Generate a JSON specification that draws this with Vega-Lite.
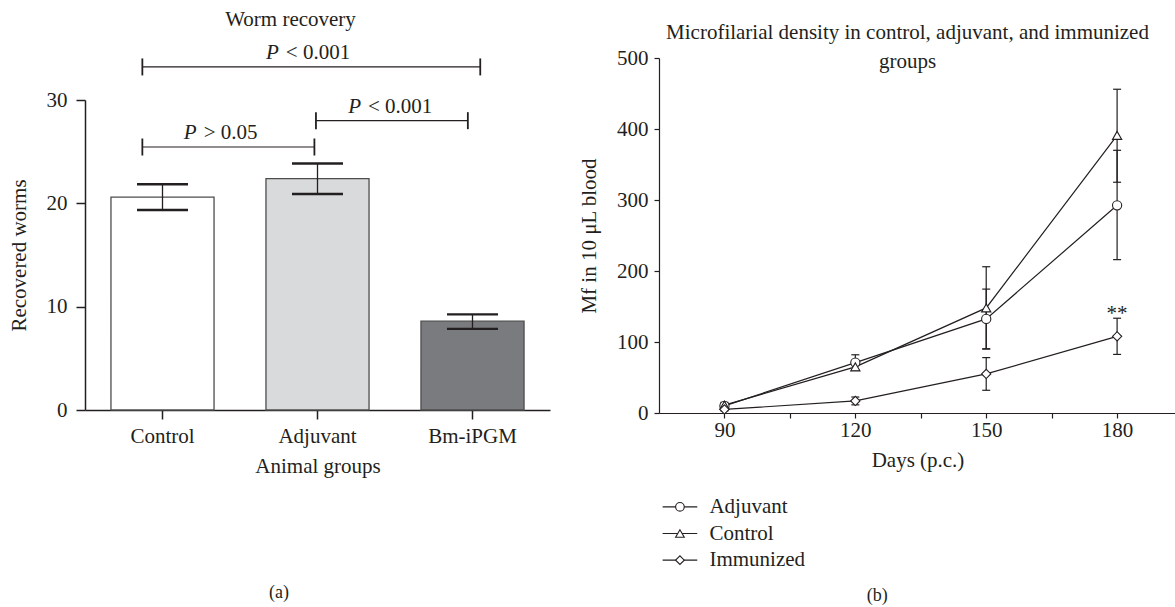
{
  "$schema": "https://vega.github.io/schema/vega-lite/v6.json",
  "padding": {"left": 8, "top": 7, "right": 0, "bottom": 0},
  "background": "white",
  "config": {
    "view": {"stroke": null},
    "font": "Liberation Serif",
    "title": {"font": "Liberation Serif", "fontSize": 21, "fontWeight": "normal", "color": "#231f20"},
    "axis": {"labelFont": "Liberation Serif", "titleFont": "Liberation Serif", "labelFontSize": 21, "titleFontSize": 21, "titleFontWeight": "normal", "labelColor": "#231f20", "titleColor": "#231f20", "domainColor": "#231f20", "tickColor": "#231f20", "grid": false, "labelOverlap": false}
  },
  "datasets": {
    "bars": [
      {"group": "Control", "mean": 20.6, "lo": 19.35, "hi": 21.85},
      {"group": "Adjuvant", "mean": 22.4, "lo": 20.9, "hi": 23.85},
      {"group": "Bm-iPGM", "mean": 8.6, "lo": 7.85, "hi": 9.25}
    ],
    "brackets": [
      {"u1": 0.37, "u2": 2.55, "y": 33.2, "split": 1.27, "rest": "< 0.001"},
      {"u1": 0.37, "u2": 1.48, "y": 25.45, "split": 0.74, "rest": "> 0.05"},
      {"u1": 1.49, "u2": 2.47, "y": 28.0, "split": 1.8, "rest": "< 0.001"}
    ],
    "mf": [
      {"group": "Adjuvant", "day": 90, "mean": 10, "lo": 7, "hi": 13},
      {"group": "Adjuvant", "day": 120, "mean": 71, "lo": 60, "hi": 82},
      {"group": "Adjuvant", "day": 150, "mean": 132.5, "lo": 90.5, "hi": 174.5},
      {"group": "Adjuvant", "day": 180, "mean": 292.5, "lo": 216, "hi": 370},
      {"group": "Control", "day": 90, "mean": 11, "lo": 7, "hi": 15},
      {"group": "Control", "day": 120, "mean": 65, "lo": 61, "hi": 70},
      {"group": "Control", "day": 150, "mean": 148, "lo": 90, "hi": 206},
      {"group": "Control", "day": 180, "mean": 391, "lo": 325, "hi": 456},
      {"group": "Immunized", "day": 90, "mean": 5, "lo": 3, "hi": 7},
      {"group": "Immunized", "day": 120, "mean": 17, "lo": 11.5, "hi": 22.5},
      {"group": "Immunized", "day": 150, "mean": 55, "lo": 32, "hi": 78},
      {"group": "Immunized", "day": 180, "mean": 108, "lo": 82.5, "hi": 133.5}
    ],
    "stars": [
      {"day": 180, "y": 133.5, "label": "**"}
    ],
    "legendrows": [
      {"group": "Adjuvant"},
      {"group": "Control"},
      {"group": "Immunized"}
    ]
  },
  "spacing": 28,
  "resolve": {"scale": {"shape": "independent", "fill": "independent"}, "legend": {"shape": "independent", "fill": "independent"}},
  "hconcat": [
    {
      "title": {"text": "(a)", "orient": "bottom", "anchor": "middle", "fontSize": 18, "offset": 107},
      "bounds": "flush",
      "spacing": 0,
      "vconcat": [
        {
          "width": 465,
          "height": 42,
          "data": {"values": []},
          "mark": {"type": "point", "opacity": 0}
        },
        {
          "width": 465,
          "height": 310,
          "title": {"text": "Worm recovery", "frame": "group", "anchor": "middle", "dx": -27, "offset": 11.5},
          "resolve": {"scale": {"x": "independent"}, "axis": {"x": "independent"}},
          "layer": [
            {
              "data": {"name": "bars"},
              "layer": [
                {
                  "mark": {"type": "bar", "stroke": "#4d4d4d", "strokeWidth": 1.3},
                  "encoding": {
                    "x": {"field": "group", "type": "nominal", "sort": ["Control", "Adjuvant", "Bm-iPGM"],
                      "scale": {"paddingInner": 0.335, "paddingOuter": 0.1675},
                      "axis": {"title": "Animal groups", "labelAngle": 0, "tickSize": 9, "labelPadding": 6.5, "titlePadding": 9, "domainWidth": 1.5, "tickWidth": 1.5}},
                    "y": {"field": "mean", "type": "quantitative", "scale": {"domain": [0, 30], "nice": false},
                      "axis": {"title": "Recovered worms", "values": [0, 10, 20, 30], "tickSize": 9, "labelPadding": 9, "titlePadding": 17, "domainWidth": 1.5, "tickWidth": 1.5}},
                    "fill": {"field": "group", "type": "nominal", "scale": {"domain": ["Control", "Adjuvant", "Bm-iPGM"], "range": ["#ffffff", "#d9dadc", "#7a7b7e"]}, "legend": null}
                  }
                },
                {
                  "mark": {"type": "rule", "color": "#231f20", "strokeWidth": 1.3},
                  "encoding": {
                    "x": {"field": "group", "type": "nominal", "sort": ["Control", "Adjuvant", "Bm-iPGM"]},
                    "y": {"field": "lo", "type": "quantitative"},
                    "y2": {"field": "hi"}
                  }
                },
                {
                  "mark": {"type": "tick", "orient": "horizontal", "size": 51, "thickness": 2.4, "color": "#231f20", "opacity": 1},
                  "encoding": {
                    "x": {"field": "group", "type": "nominal", "sort": ["Control", "Adjuvant", "Bm-iPGM"]},
                    "y": {"field": "lo", "type": "quantitative"}
                  }
                },
                {
                  "mark": {"type": "tick", "orient": "horizontal", "size": 51, "thickness": 2.4, "color": "#231f20", "opacity": 1},
                  "encoding": {
                    "x": {"field": "group", "type": "nominal", "sort": ["Control", "Adjuvant", "Bm-iPGM"]},
                    "y": {"field": "hi", "type": "quantitative"}
                  }
                }
              ]
            },
            {
              "data": {"name": "brackets"},
              "layer": [
                {
                  "mark": {"type": "rule", "color": "#231f20", "strokeWidth": 1.2},
                  "encoding": {
                    "x": {"field": "u1", "type": "quantitative", "scale": {"domain": [0, 3], "nice": false, "zero": false}, "axis": null},
                    "x2": {"field": "u2"},
                    "y": {"field": "y", "type": "quantitative", "scale": {"domain": [0, 30], "nice": false}}
                  }
                },
                {
                  "mark": {"type": "tick", "orient": "vertical", "size": 17, "thickness": 1.8, "color": "#231f20", "opacity": 1},
                  "encoding": {
                    "x": {"field": "u1", "type": "quantitative"},
                    "y": {"field": "y", "type": "quantitative"}
                  }
                },
                {
                  "mark": {"type": "tick", "orient": "vertical", "size": 17, "thickness": 1.8, "color": "#231f20", "opacity": 1},
                  "encoding": {
                    "x": {"field": "u2", "type": "quantitative"},
                    "y": {"field": "y", "type": "quantitative"}
                  }
                },
                {
                  "mark": {"type": "text", "font": "Liberation Serif", "fontSize": 21, "fontStyle": "italic", "color": "#231f20", "align": "right", "baseline": "alphabetic", "dy": -8, "dx": -3},
                  "encoding": {
                    "x": {"field": "split", "type": "quantitative"},
                    "y": {"field": "y", "type": "quantitative"},
                    "text": {"value": "P"}
                  }
                },
                {
                  "mark": {"type": "text", "font": "Liberation Serif", "fontSize": 21, "color": "#231f20", "align": "left", "baseline": "alphabetic", "dy": -8, "dx": 4},
                  "encoding": {
                    "x": {"field": "split", "type": "quantitative"},
                    "y": {"field": "y", "type": "quantitative"},
                    "text": {"field": "rest"}
                  }
                }
              ]
            }
          ]
        }
      ]
    },
    {
      "title": {"text": "(b)", "orient": "bottom", "anchor": "middle", "fontSize": 18, "offset": 13},
      "spacing": 23.5,
      "resolve": {"scale": {"shape": "independent"}, "legend": {"shape": "independent"}},
      "vconcat": [
        {
          "width": 517,
          "height": 355,
          "title": {"text": " ", "fontSize": 2, "subtitle": ["Microfilarial density in control, adjuvant, and immunized", "groups"], "subtitleFont": "Liberation Serif", "subtitleFontSize": 21, "subtitleColor": "#231f20", "subtitleLineHeight": 29, "subtitlePadding": 13, "frame": "group", "anchor": "middle", "dx": -10, "offset": -25},
          "layer": [
            {
              "data": {"name": "mf"},
              "mark": {"type": "line", "color": "#231f20", "strokeWidth": 1.2},
              "encoding": {
                "x": {"field": "day", "type": "quantitative", "scale": {"domain": [75, 193.5], "nice": false, "zero": false},
                  "axis": {"title": "Days (p.c.)", "values": [90, 105, 120, 135, 150, 165, 180], "labelExpr": "datum.value % 30 === 0 ? datum.label : ''", "tickSize": 5, "labelPadding": 1.5, "titlePadding": 8.5, "domainWidth": 1.2, "tickWidth": 1.2}},
                "y": {"field": "mean", "type": "quantitative", "scale": {"domain": [0, 500], "nice": false},
                  "axis": {"title": "Mf in 10 μL blood", "values": [0, 50, 100, 150, 200, 250, 300, 350, 400, 450, 500], "tickSize": 5, "labelPadding": 6, "titlePadding": 17, "domainWidth": 1.2, "tickWidth": 1.2}},
                "detail": {"field": "group", "type": "nominal"}
              }
            },
            {
              "data": {"name": "mf"},
              "mark": {"type": "rule", "color": "#231f20", "strokeWidth": 1.2},
              "encoding": {
                "x": {"field": "day", "type": "quantitative"},
                "y": {"field": "lo", "type": "quantitative"},
                "y2": {"field": "hi"}
              }
            },
            {
              "data": {"name": "mf"},
              "mark": {"type": "tick", "orient": "horizontal", "size": 8, "thickness": 1.2, "color": "#231f20", "opacity": 1},
              "encoding": {
                "x": {"field": "day", "type": "quantitative"},
                "y": {"field": "lo", "type": "quantitative"}
              }
            },
            {
              "data": {"name": "mf"},
              "mark": {"type": "tick", "orient": "horizontal", "size": 8, "thickness": 1.2, "color": "#231f20", "opacity": 1},
              "encoding": {
                "x": {"field": "day", "type": "quantitative"},
                "y": {"field": "hi", "type": "quantitative"}
              }
            },
            {
              "data": {"name": "mf"},
              "mark": {"type": "point", "filled": true, "fill": "white", "stroke": "#231f20", "strokeWidth": 1.1, "size": 85, "opacity": 1},
              "encoding": {
                "x": {"field": "day", "type": "quantitative"},
                "y": {"field": "mean", "type": "quantitative"},
                "shape": {"field": "group", "type": "nominal",
                  "scale": {"domain": ["Adjuvant", "Control", "Immunized"], "range": ["circle", "triangle-up", "diamond"]},
                  "legend": null}
              }
            },
            {
              "data": {"name": "stars"},
              "mark": {"type": "text", "font": "Liberation Serif", "fontSize": 21, "color": "#231f20", "baseline": "alphabetic", "dy": 2},
              "encoding": {
                "x": {"field": "day", "type": "quantitative"},
                "y": {"field": "y", "type": "quantitative"},
                "text": {"field": "label"}
              }
            }
          ]
        },
        {
          "width": 517,
          "height": 80,
          "data": {"name": "legendrows"},
          "encoding": {
            "y": {"field": "group", "type": "nominal", "scale": {"type": "point", "padding": 0.5, "domain": ["Adjuvant", "Control", "Immunized"]}, "axis": null}
          },
          "layer": [
            {
              "mark": {"type": "rule", "color": "#231f20", "strokeWidth": 1.1},
              "encoding": {
                "x": {"datum": 0.7, "type": "quantitative", "scale": {"domain": [0, 100], "nice": false, "zero": false}, "axis": null},
                "x2": {"datum": 7.4}
              }
            },
            {
              "mark": {"type": "point", "filled": true, "fill": "white", "stroke": "#231f20", "strokeWidth": 1.1, "size": 75, "opacity": 1},
              "encoding": {
                "x": {"datum": 4.05, "type": "quantitative"},
                "shape": {"field": "group", "type": "nominal", "scale": {"domain": ["Adjuvant", "Control", "Immunized"], "range": ["circle", "triangle-up", "diamond"]}, "legend": null}
              }
            },
            {
              "mark": {"type": "text", "align": "left", "baseline": "middle", "font": "Liberation Serif", "fontSize": 21, "color": "#231f20"},
              "encoding": {
                "x": {"datum": 9.75, "type": "quantitative"},
                "text": {"field": "group"}
              }
            }
          ]
        }
      ]
    }
  ]
}
